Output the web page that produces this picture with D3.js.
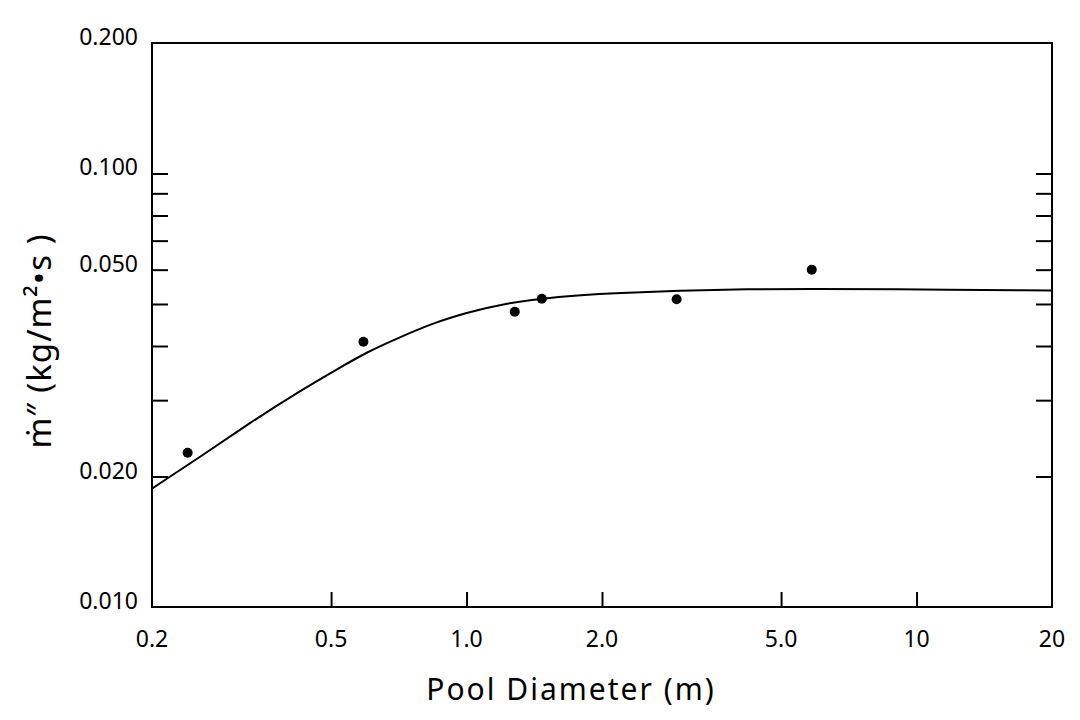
<!DOCTYPE html>
<html>
<head>
<meta charset="utf-8">
<script src="https://cdn.jsdelivr.net/npm/d3@7"></script>
<style>
  body { margin: 0; background: #fff; }
  svg { font-family: "Noto Sans", sans-serif; }
</style>
</head>
<body>
<svg id="grafico" width="1080" height="720"></svg>
<script>
// medidas (pontos)
var diametro = [0.24, 0.59, 1.28, 1.47, 2.93, 5.85],
    taxa = [0.0227, 0.0409, 0.0480, 0.0514, 0.0513, 0.0600]

// curva ajustada
var curvaD = [0.2, 0.256, 0.330, 0.426, 0.524, 0.600, 0.711, 0.844, 1.00, 1.19, 1.61, 2.12, 2.98, 4.19, 5.89, 8.30, 20],
    curvaTaxa = [0.01876, 0.0222, 0.0266, 0.0315, 0.0357, 0.0387, 0.0419, 0.0452, 0.0477, 0.0500, 0.0521, 0.0530, 0.0537, 0.0541, 0.0542, 0.0541, 0.0537]

// eixos
var xTicks = [0.2, 0.5, 1, 2, 5, 10, 20],
    xLabels = ["0.2", "0.5", "1.0", "2.0", "5.0", "10", "20"],
    yMenores = [0.02, 0.03, 0.04, 0.05, 0.06, 0.07, 0.08, 0.09, 0.1],
    yLabelPos = [0.2, 0.1, 0.06, 0.02, 0.01],
    yLabels = ["0.200", "0.100", "0.050", "0.020", "0.010"]

var margin = {top: 43, right: 28, bottom: 113, left: 152},
    width = 1080 - margin.left - margin.right,
    height = 720 - margin.top - margin.bottom

var svg = d3.select("#grafico")
var g = svg.append("g")
    .attr("transform", "translate(" + margin.left + "," + margin.top + ")")

var x = d3.scaleLog().domain([0.2, 20]).range([0, width])
var y = d3.scaleLog().domain([0.01, 0.2]).range([height, 0])

// ticks para dentro, esquerda e direita
g.append("g")
    .call(d3.axisLeft(y).tickValues(yMenores).tickSize(-16).tickFormat(""))
    .call(function(s){ s.select(".domain").remove() })
    .selectAll("line").attr("stroke", "#000").attr("stroke-width", 2)
g.append("g")
    .attr("transform", "translate(" + width + ",0)")
    .call(d3.axisRight(y).tickValues(yMenores).tickSize(-16).tickFormat(""))
    .call(function(s){ s.select(".domain").remove() })
    .selectAll("line").attr("stroke", "#000").attr("stroke-width", 2)
g.append("g")
    .attr("transform", "translate(0," + height + ")")
    .call(d3.axisBottom(x).tickValues(xTicks.slice(1, -1)).tickSize(-15).tickFormat(""))
    .call(function(s){ s.select(".domain").remove() })
    .selectAll("line").attr("stroke", "#000").attr("stroke-width", 2)

// moldura
g.append("rect")
    .attr("width", width)
    .attr("height", height)
    .attr("fill", "none")
    .attr("stroke", "#000")
    .attr("stroke-width", 2)

// rotulos
g.selectAll(".xlabel")
    .data(xTicks)
  .enter().append("text")
    .attr("class", "xlabel")
    .attr("x", function(d){ return x(d) })
    .attr("y", height + 40)
    .attr("text-anchor", "middle")
    .attr("font-size", 23)
    .text(function(d, i){ return xLabels[i] })

g.selectAll(".ylabel")
    .data(yLabelPos)
  .enter().append("text")
    .attr("class", "ylabel")
    .attr("x", -14)
    .attr("y", function(d){ return y(d) + 2 })
    .attr("text-anchor", "end")
    .attr("font-size", 23)
    .text(function(d, i){ return yLabels[i] })

// curva
var linha = d3.line()
    .x(function(d){ return x(d[0]) })
    .y(function(d){ return y(d[1]) })
    .curve(d3.curveBasis)

g.append("path")
    .datum(d3.zip(curvaD, curvaTaxa))
    .attr("d", linha)
    .attr("fill", "none")
    .attr("stroke", "#000")
    .attr("stroke-width", 2)

g.selectAll(".ponto")
    .data(d3.zip(diametro, taxa))
  .enter().append("circle")
    .attr("class", "ponto")
    .attr("cx", function(d){ return x(d[0]) })
    .attr("cy", function(d){ return y(d[1]) })
    .attr("r", 5)
    .attr("fill", "#000")

// titulos
svg.append("text")
    .attr("x", 571)
    .attr("y", 700)
    .attr("text-anchor", "middle")
    .attr("font-size", 30)
    .attr("letter-spacing", 2)
    .text("Pool Diameter (m)")

svg.append("text")
    .attr("transform", "translate(51,341) rotate(-90)")
    .attr("text-anchor", "middle")
    .attr("font-size", 33)
    .attr("letter-spacing", 1)
    .text("ṁ″ (kg/m²•s )")
</script>
</body>
</html>
